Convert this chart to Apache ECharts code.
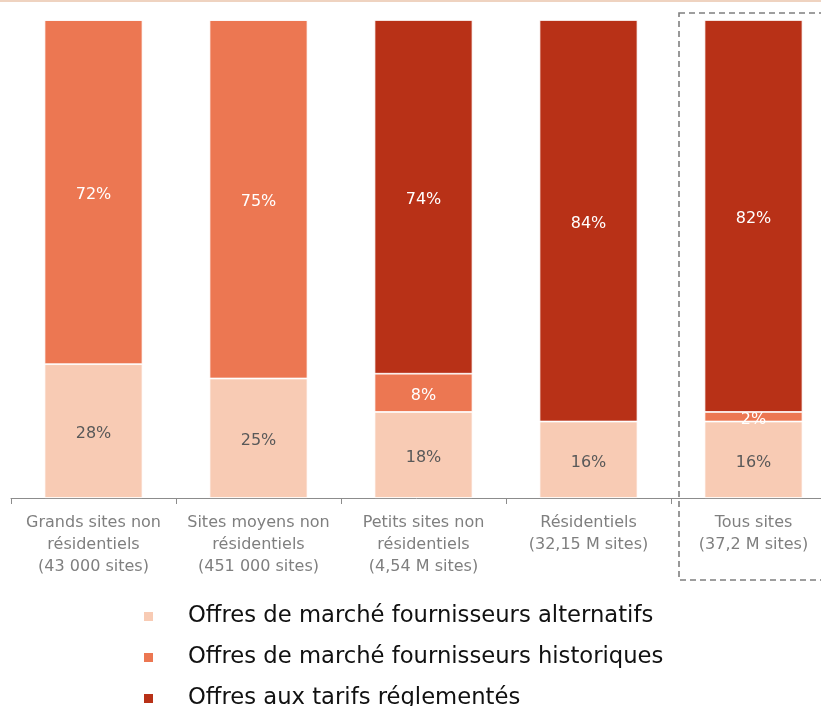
<!DOCTYPE html>
<html>
<head>
<meta charset="utf-8">
<script src="https://cdn.jsdelivr.net/npm/echarts@6/dist/echarts.min.js"></script>
<style>
  html, body { margin: 0; padding: 0; background: #fff; }
  #chart { width: 821px; height: 706px; }
</style>
</head>
<body>
<div id="chart"></div>
<script>
  // catégories et parts (%)
  var categories = [
    'Grands sites non\nrésidentiels\n(43 000 sites)',
    'Sites moyens non\nrésidentiels\n(451 000 sites)',
    'Petits sites non\nrésidentiels\n(4,54 M sites)',
    'Résidentiels\n(32,15 M sites)',
    'Tous sites\n(37,2 M sites)'
  ]
  var alternatifs = [28, 25, 18, 16, 16]
  var historiques = [72, 75, 8, 0, 2]
  var reglementes = [0, 0, 74, 84, 82]

  var chart = echarts.init(document.getElementById('chart'))

  function pct (p) {
    return p.value > 0 ? p.value + '%' : ''
  }

  var option = {
    animation: false,
    textStyle: { fontFamily: 'DejaVu Sans, sans-serif' },
    grid: { left: 11, width: 825, top: 20, height: 478, outerBoundsMode: 'none' },
    xAxis: {
      type: 'category',
      data: categories,
      axisLine: { lineStyle: { color: '#8c8c8c', width: 1 } },
      axisTick: { show: true, length: 6, lineStyle: { color: '#8c8c8c' } },
      axisLabel: { interval: 0, color: '#7f7f7f', fontSize: 16, lineHeight: 22, margin: 14 }
    },
    yAxis: {
      type: 'value',
      min: 0,
      max: 100,
      show: false,
      splitLine: { show: false }
    },
    legend: {
      orient: 'vertical',
      left: 137,
      top: 600,
      height: 130,
      itemWidth: 11,
      itemHeight: 11,
      itemGap: 18,
      icon: 'rect',
      data: ['Offres de marché fournisseurs alternatifs', 'Offres de marché fournisseurs historiques', 'Offres aux tarifs réglementés'],
      textStyle: { color: '#111', fontSize: 22.7, padding: [0, 0, 0, 29] }
    },
    series: [
      {
        name: 'Offres de marché fournisseurs alternatifs',
        type: 'bar',
        stack: 'total',
        barWidth: 98,
        data: alternatifs,
        itemStyle: { color: '#F8CBB4', borderColor: '#fff', borderWidth: 0.8 },
        label: { show: true, position: 'inside', offset: [0, 3], color: '#595959', fontSize: 16, formatter: pct }
      },
      {
        name: 'Offres de marché fournisseurs historiques',
        type: 'bar',
        stack: 'total',
        data: historiques,
        itemStyle: { color: '#EC7752', borderColor: '#fff', borderWidth: 0.8 },
        label: { show: true, position: 'inside', offset: [0, 3], color: '#fff', fontSize: 16, formatter: pct }
      },
      {
        name: 'Offres aux tarifs réglementés',
        type: 'bar',
        stack: 'total',
        data: reglementes,
        itemStyle: { color: '#B83117', borderColor: '#fff', borderWidth: 0.8 },
        label: { show: true, position: 'inside', offset: [0, 3], color: '#fff', fontSize: 16, formatter: pct }
      }
    ],
    graphic: [
      {
        type: 'line',
        shape: { x1: 0, y1: 1, x2: 821, y2: 1 },
        style: { stroke: '#EFD3C0', lineWidth: 2 }
      },
      {
        type: 'rect',
        shape: { x: 679, y: 13, width: 170, height: 567 },
        style: { fill: 'none', stroke: '#7f7f7f', lineWidth: 1.6, lineDash: [6, 4] }
      }
    ]
  }

  chart.setOption(option)
</script>
</body>
</html>
